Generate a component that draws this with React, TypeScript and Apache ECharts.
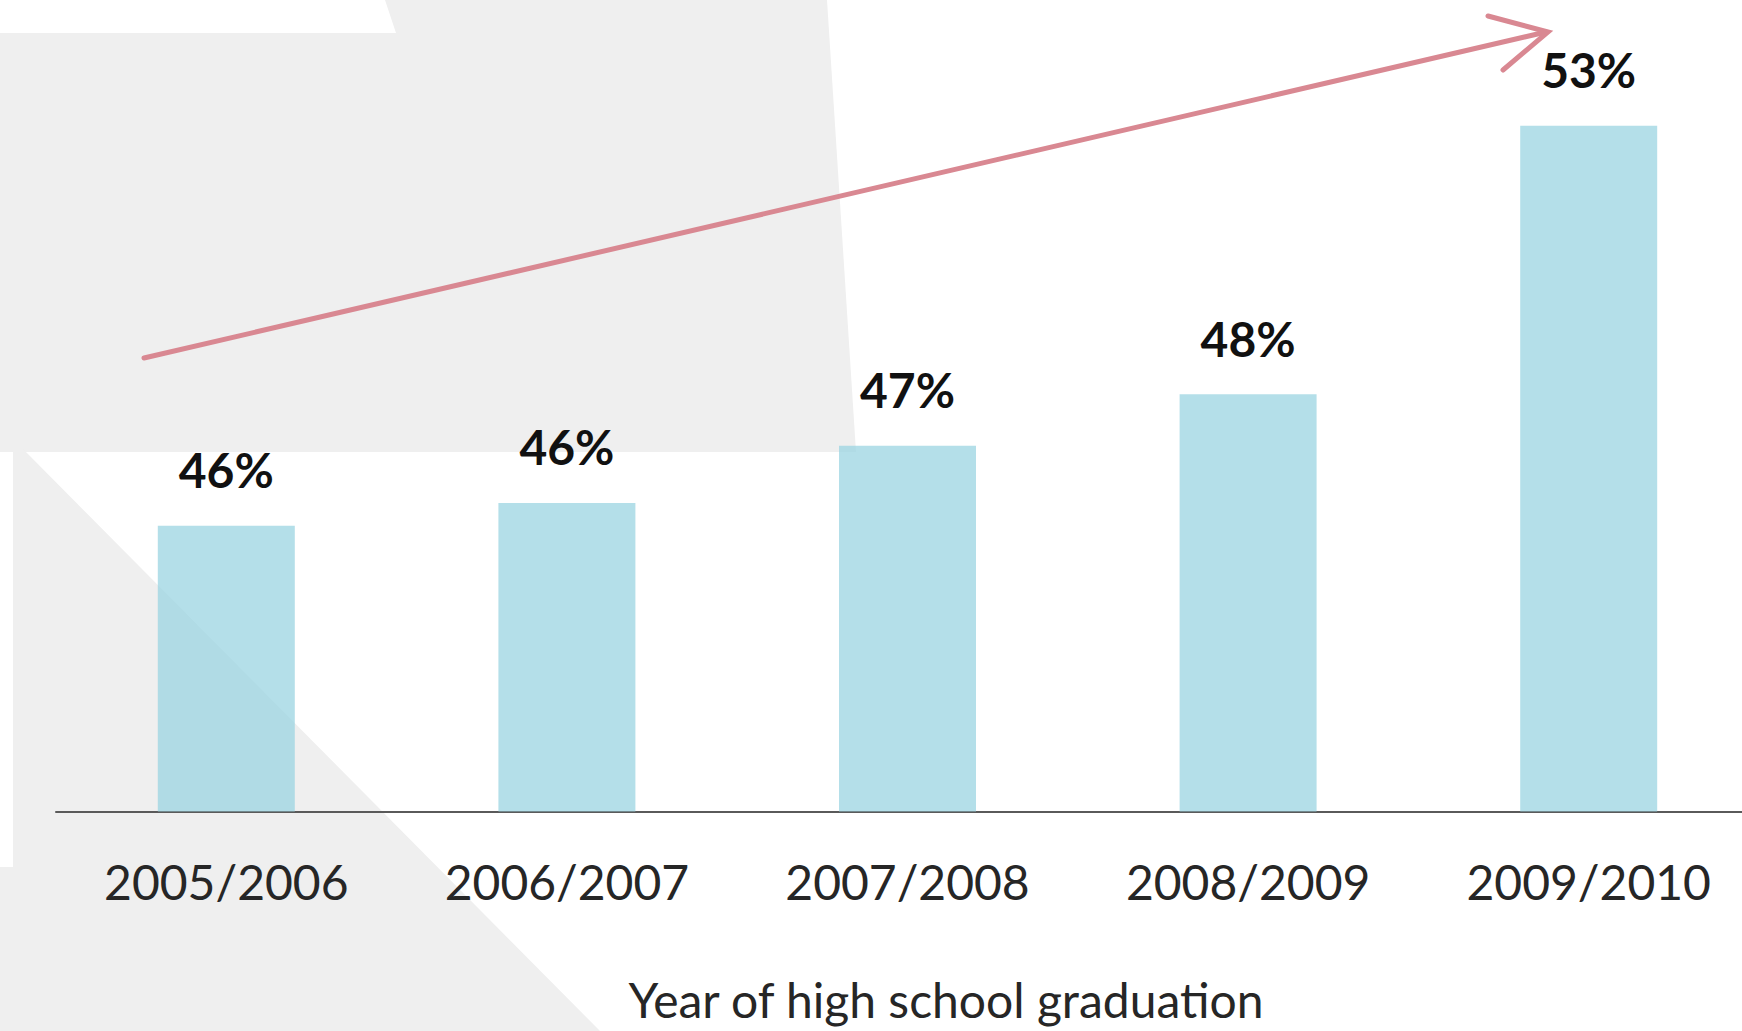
import React, { useEffect, useRef } from "react";
import * as echarts from "echarts";

const categories = ["2005/2006", "2006/2007", "2007/2008", "2008/2009", "2009/2010"];
const values = [46.0, 46.4, 47.4, 48.3, 53.0];
const axisTitle = "Year of high school graduation";

export default function App() {
  const ref = useRef<HTMLDivElement>(null);

  useEffect(() => {
    document.body.style.margin = "0";
    document.body.style.overflow = "hidden";
    const chart = echarts.init(ref.current!, null, { renderer: "svg" });
    const gray = "#efefef";
    const pink = "#d98892";
    chart.setOption({
      animation: false,
      backgroundColor: "#ffffff",
      grid: { left: 56, top: 11.5, width: 1703, height: 800 },
      xAxis: {
        type: "category",
        data: categories,
        axisLine: { lineStyle: { color: "#5a5a5a", width: 2 } },
        axisTick: { show: false },
        axisLabel: {
          fontFamily: "Lato",
          fontSize: 48,
          color: "#262626",
          margin: 46,
        },
      },
      yAxis: { type: "value", min: 41, max: 55, show: false },
      series: [
        {
          type: "bar",
          data: values,
          barWidth: 137,
          itemStyle: { color: "rgba(155,212,226,0.75)" },
          label: {
            show: true,
            position: "top",
            distance: 32,
            formatter: (p: any) => Math.round(p.value) + "%",
            fontFamily: "Lato",
            fontWeight: "bold",
            fontSize: 48,
            color: "#111111",
          },
        },
      ],
      graphic: [
        {
          type: "polygon",
          z: -10,
          shape: {
            points: [
              [385, 0],
              [827, 0],
              [856, 452],
              [0, 452],
              [0, 33],
              [396, 33],
            ],
          },
          style: { fill: gray },
        },
        {
          type: "polygon",
          z: -10,
          shape: {
            points: [
              [13, 448],
              [22, 448],
              [600, 1031],
              [0, 1031],
              [0, 867],
              [13, 867],
            ],
          },
          style: { fill: gray },
        },
        {
          type: "line",
          z: 10,
          shape: { x1: 144, y1: 358, x2: 1546, y2: 32 },
          style: { stroke: pink, lineWidth: 5, lineCap: "round" },
        },
        {
          type: "polyline",
          z: 10,
          shape: {
            points: [
              [1488, 16],
              [1548, 32],
              [1503, 70],
            ],
          },
          style: { stroke: pink, lineWidth: 5, lineCap: "round", lineJoin: "miter", fill: "none" },
        },
        {
          type: "text",
          z: 10,
          x: 946,
          y: 999,
          style: {
            text: axisTitle,
            fontFamily: "Lato",
            fontSize: 48,
            lineHeight: 50,
            fill: "#262626",
            textAlign: "center",
            textVerticalAlign: "middle",
          },
        },
      ],
    });
    return () => chart.dispose();
  }, []);

  return (
    <div style={{ width: 1742, height: 1031, overflow: "hidden", position: "relative" }}>
      <div ref={ref} style={{ width: 1800, height: 1031 }} />
    </div>
  );
}
